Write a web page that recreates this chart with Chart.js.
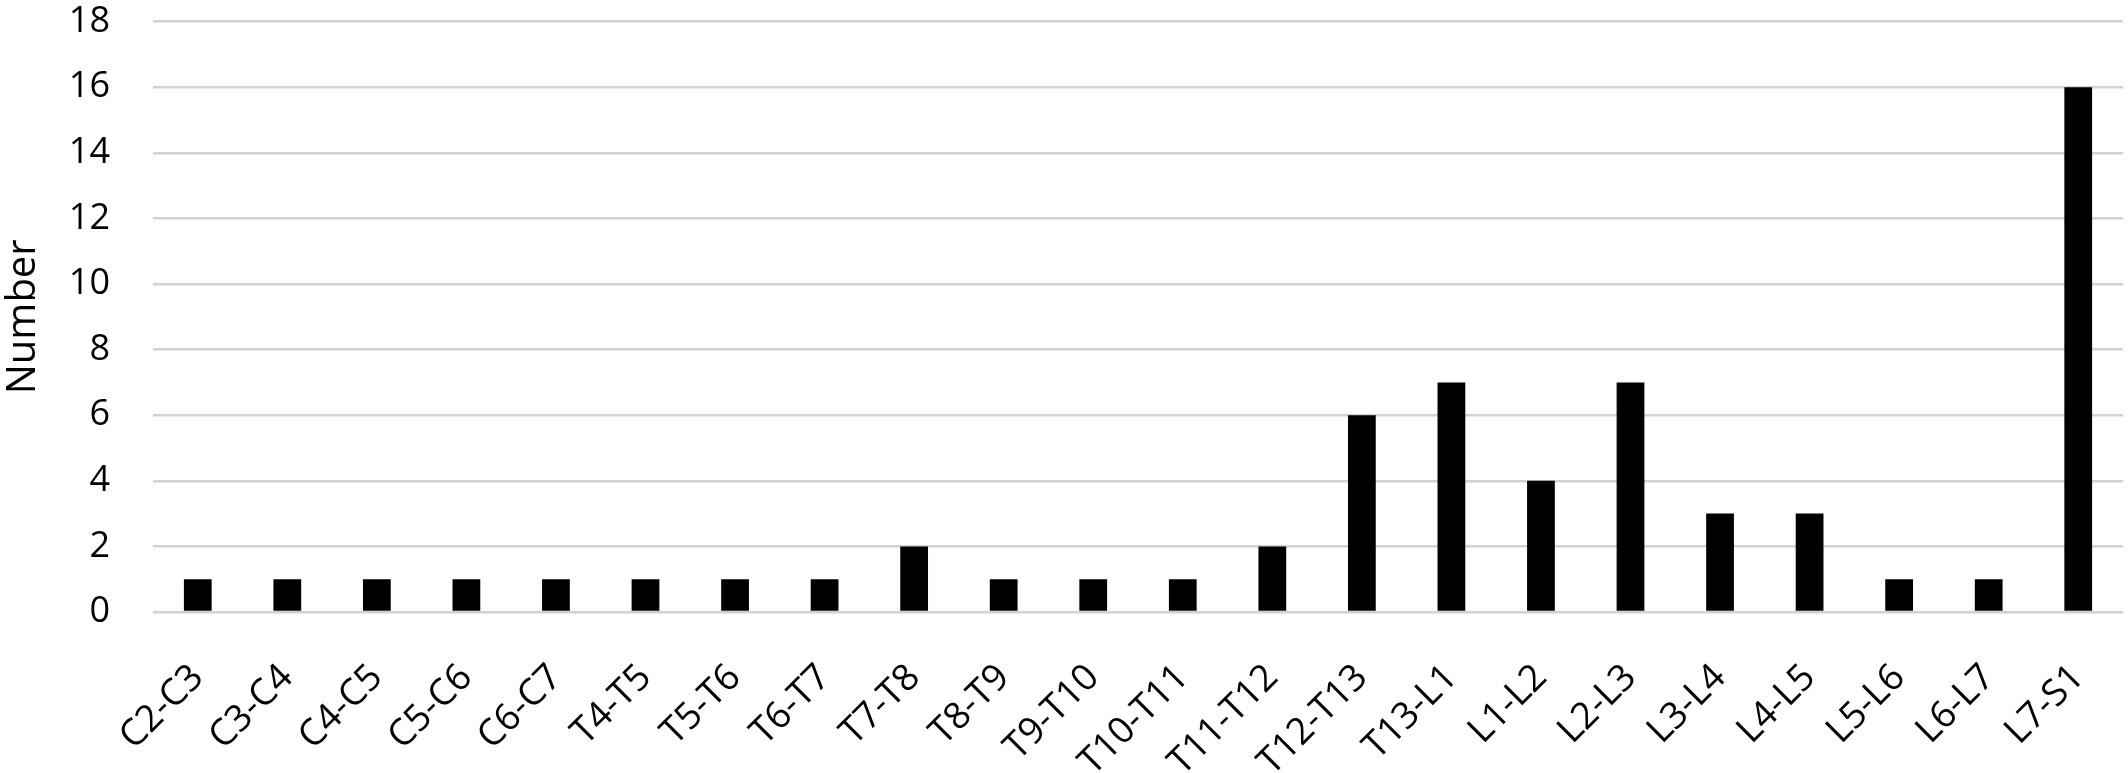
<!DOCTYPE html>
<html>
<head>
<meta charset="utf-8">
<script src="https://cdn.jsdelivr.net/npm/chart.js@4/dist/chart.umd.min.js"></script>
<style>
  html, body { margin: 0; padding: 0; background: #fff; }
  #wrap { width: 2128px; height: 773px; position: relative; }
</style>
</head>
<body>
<div id="wrap"><canvas id="segmentChart"></canvas></div>
<script>
  // segment levels along the x axis
  const segments = ['C2-C3', 'C3-C4', 'C4-C5', 'C5-C6', 'C6-C7', 'T4-T5', 'T5-T6', 'T6-T7',
    'T7-T8', 'T8-T9', 'T9-T10', 'T10-T11', 'T11-T12', 'T12-T13', 'T13-L1', 'L1-L2',
    'L2-L3', 'L3-L4', 'L4-L5', 'L5-L6', 'L6-L7', 'L7-S1'];
  const counts = [1, 1, 1, 1, 1, 1, 1, 1, 2, 1, 1, 1, 2, 6, 7, 4, 7, 3, 3, 1, 1, 16];
  const yTicks = [0, 2, 4, 6, 8, 10, 12, 14, 16, 18];

  const canvas = document.getElementById('segmentChart');

  // tick marks are kept (for spacing) but drawn invisible
  const hidden = 'rgba(0,0,0,0)';

  new Chart(canvas, {
    type: 'bar',
    data: {
      labels: segments,
      datasets: [{
        label: 'Number',
        data: counts,
        backgroundColor: '#000000',
        borderWidth: 0,
        barPercentage: 0.31,
        categoryPercentage: 1.0
      }]
    },
    options: {
      responsive: true,
      maintainAspectRatio: false,
      animation: false,
      layout: { padding: { top: 0, right: 5, left: 0, bottom: 0 } },
      plugins: {
        legend: { display: false },
        tooltip: { enabled: false }
      },
      scales: {
        x: {
          grid: { display: true, drawOnChartArea: false, drawTicks: true, tickLength: 44, tickColor: hidden, color: hidden },
          border: { display: false },
          ticks: {
            autoSkip: false,
            minRotation: 45,
            maxRotation: 45,
            padding: 0,
            color: '#000',
            font: { family: 'Open Sans', size: 37 }
          },
          afterFit: (scale) => { scale.height = 161; }
        },
        y: {
          min: 0,
          max: 18,
          afterBuildTicks: (scale) => { scale.ticks = yTicks.map(v => ({ value: v })); },
          grid: { color: '#d2d2d2', lineWidth: 2.5, drawTicks: true, tickLength: 43, tickColor: hidden },
          border: { display: false },
          ticks: {
            padding: 0,
            color: '#000',
            font: { family: 'Open Sans', size: 36 }
          },
          title: {
            display: true,
            text: 'Number',
            color: '#000',
            padding: 0,
            font: { family: 'Open Sans', size: 40 }
          },
          afterFit: (scale) => { scale.width = 153; }
        }
      }
    }
  });
</script>
</body>
</html>
